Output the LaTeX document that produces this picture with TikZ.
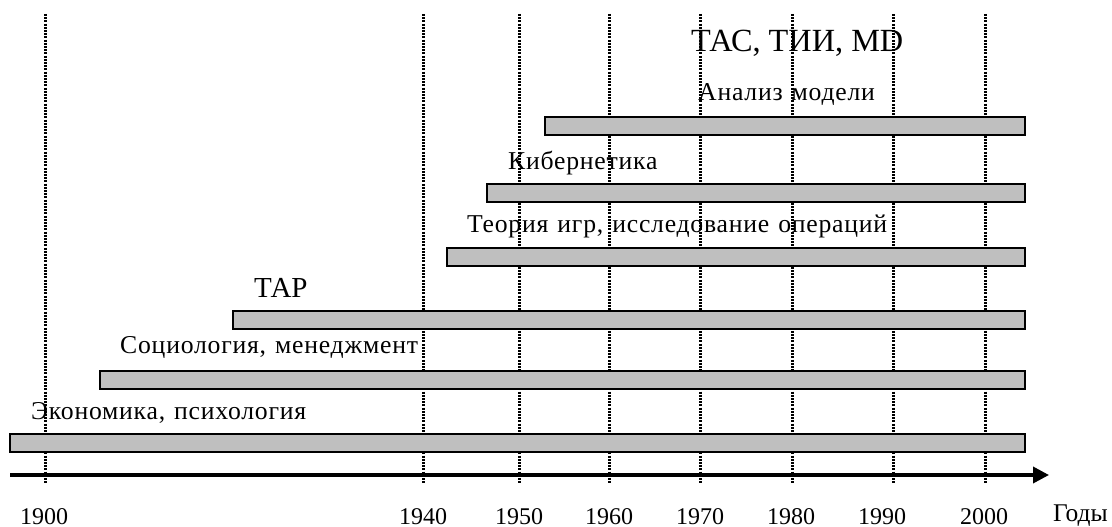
\documentclass[tikz,border=0pt]{standalone}
\usepackage{fontspec}
\setmainfont{Liberation Serif}
\newfontfamily\spaced[LetterSpace=3,WordSpace=1.25]{Liberation Serif}
\usetikzlibrary{arrows.meta}
\tikzset{
  grid line/.style={line width=3pt,dash pattern=on 2pt off 1.2pt},
  bar/.style={draw=black,fill=black!25,line width=2pt,anchor=north west,inner sep=0pt,outer sep=0pt,minimum height=18pt},
  lab/.style={anchor=base west,inner sep=0pt,font=\spaced\fontsize{25.7}{27}\selectfont},
  year/.style={anchor=base,inner sep=0pt,font=\fontsize{24}{26}\selectfont},
  axisline/.style={line width=3.6pt,-{Triangle[length=16pt,width=16pt]}}
}
\begin{document}
\begin{tikzpicture}[x=1pt,y=-1pt]
\useasboundingbox (0,0) rectangle (1112,527);
\foreach \n/\x in {a/45,b/423,c/519,d/609,e/700,f/792,g/893,h/985}{
  \coordinate (t\n) at (\x,14);
  \coordinate (u\n) at (\x,484);
  \draw[grid line] (t\n) -- (u\n);
}
\node[bar,minimum width=480pt] (b1) at (545,117) {};
\node[bar,minimum width=538pt] (b2) at (487,184) {};
\node[bar,minimum width=578pt] (b3) at (447,248) {};
\node[bar,minimum width=792pt] (b4) at (233,311) {};
\node[bar,minimum width=925pt] (b5) at (100,371) {};
\node[bar,minimum width=1015pt] (b6) at (10,434) {};
\coordinate (as) at (10,475);
\coordinate (ae) at (1049,475);
\draw[axisline] (as) -- (ae);
\node[anchor=base west,inner sep=0pt,font=\fontsize{32.3}{34}\selectfont] (l0) at (691,52) {ТАС, ТИИ, MD};
\node[lab] (l1) at (698,100) {Анализ модели};
\node[lab] (l2) at (508,169) {Кибернетика};
\node[lab] (l3) at (467,232) {Теория игр, исследование операций};
\node[anchor=base west,inner sep=0pt,font=\fontsize{29}{31}\selectfont] (l4) at (254,297) {ТАР};
\node[lab] (l5) at (120,353) {Социология, менеджмент};
\node[lab] (l6) at (31,419) {Экономика, психология};
\node[year] (y1) at (44,524) {1900};
\node[year] (y2) at (423,524) {1940};
\node[year] (y3) at (519,524) {1950};
\node[year] (y4) at (609,524) {1960};
\node[year] (y5) at (700,524) {1970};
\node[year] (y6) at (791,524) {1980};
\node[year] (y7) at (882,524) {1990};
\node[year] (y8) at (984,524) {2000};
\node[anchor=base west,inner sep=0pt,font=\fontsize{25.5}{27}\selectfont] (y9) at (1053,521.5) {Годы};
\end{tikzpicture}
\end{document}
